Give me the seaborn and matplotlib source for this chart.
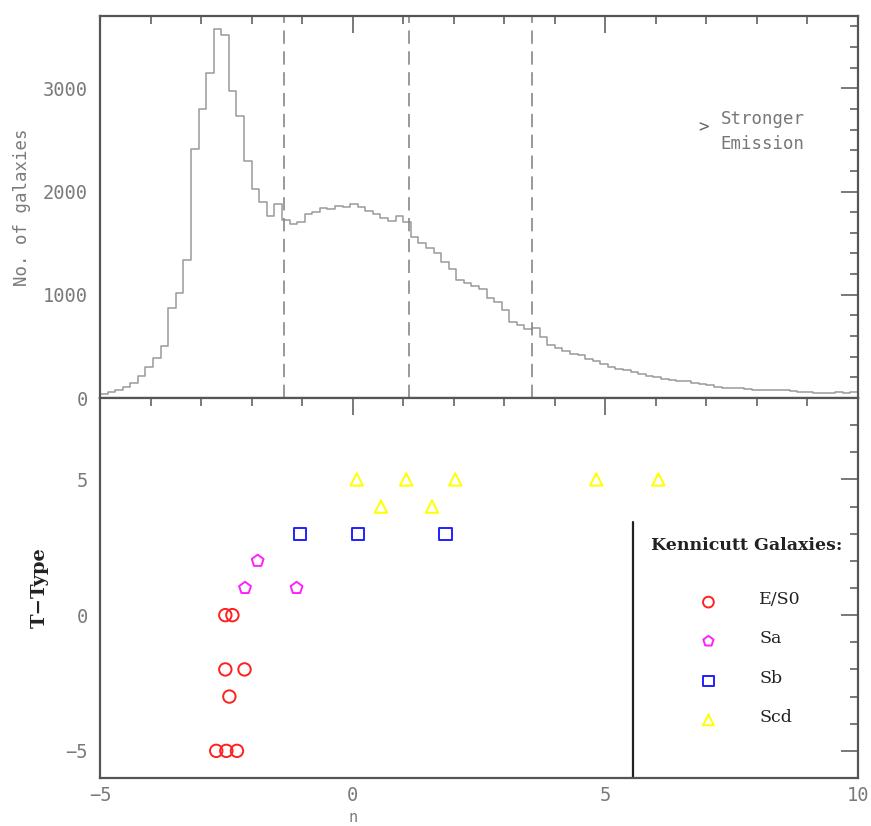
import numpy as np
import pandas as pd
import matplotlib
matplotlib.use("Agg")
import matplotlib.pyplot as plt
from matplotlib.ticker import MultipleLocator, FixedLocator
import seaborn as sns

# ---- Histogram of Sersic index n (100 bins, -5 .. 10) ----
hist_lo, hist_hi, n_bins = -5.0, 10.0, 100
hist_counts = [
    40, 55, 75, 105, 145, 210, 300, 390, 500, 875,
    1020, 1340, 2410, 2800, 3150, 3570, 3520, 2970, 2730, 2300,
    2020, 1900, 1760, 1880, 1720, 1690, 1700, 1780, 1800, 1840,
    1830, 1860, 1850, 1880, 1850, 1810, 1780, 1740, 1710, 1760,
    1700, 1560, 1500, 1450, 1400, 1320, 1250, 1140, 1110, 1080,
    1060, 970, 930, 850, 740, 710, 670, 680, 590, 510,
    480, 460, 430, 420, 380, 360, 330, 300, 280, 270,
    255, 230, 215, 200, 185, 175, 165, 160, 150, 140,
    125, 105, 100, 100, 95, 85, 80, 80, 80, 78,
    78, 70, 60, 55, 50, 45, 50, 55, 45, 60,
]
divider_n = [-1.35, 1.12, 3.55]

# ---- Kennicutt galaxies: Sersic n vs. T-type ----
es0_n = [-2.52, -2.38, -2.52, -2.14, -2.44, -2.70, -2.50, -2.29]
es0_t = [0, 0, -2, -2, -3, -5, -5, -5]
sa_n = [-2.13, -1.88, -1.11]
sa_t = [1, 2, 1]
sb_n = [-1.04, 0.11, 1.84]
sb_t = [3, 3, 3]
scd_n = [0.08, 1.06, 2.03, 4.82, 6.05, 0.56, 1.57]
scd_t = [5, 5, 5, 5, 5, 4, 4]

class_names = ["E/S0", "Sa", "Sb", "Scd"]
class_colors = ["#ff2020", "#ff20ff", "#2020ff", "#ffff00"]
class_markers = ["o", "p", "s", "^"]

edges = np.linspace(hist_lo, hist_hi, n_bins + 1)
hist_df = pd.DataFrame({
    "n": 0.5 * (edges[:-1] + edges[1:]),
    "count": np.asarray(hist_counts, dtype=float),
})

galaxies = pd.DataFrame({
    "n": es0_n + sa_n + sb_n + scd_n,
    "T": es0_t + sa_t + sb_t + scd_t,
    "cls": (["E/S0"] * len(es0_n) + ["Sa"] * len(sa_n)
            + ["Sb"] * len(sb_n) + ["Scd"] * len(scd_n)),
})

sns.set_style("white")
plt.rcParams["font.family"] = ["DejaVu Sans Mono", "DejaVu Sans"]

W, H = 871, 826
fig = plt.figure(figsize=(W / 100, H / 100), dpi=100)
left, right = 100, 858
ax_top = fig.add_axes([left / W, (H - 398) / H, (right - left) / W, (398 - 16) / H])
ax_bot = fig.add_axes([left / W, (H - 778) / H, (right - left) / W, (778 - 398) / H])

spine_col = "#555555"
label_col = "#7a7a7a"

for ax in (ax_top, ax_bot):
    for sp in ax.spines.values():
        sp.set_color(spine_col)
        sp.set_linewidth(1.6)
    ax.set_xlim(hist_lo, hist_hi)
    ax.xaxis.set_major_locator(MultipleLocator(5))
    ax.xaxis.set_minor_locator(MultipleLocator(1))
    ax.tick_params(which="both", direction="in", top=True, right=True,
                   color=spine_col, width=1.1, labelcolor=label_col,
                   labelsize=13.5)
    ax.tick_params(which="major", length=12, pad=9)
    ax.tick_params(which="minor", length=6)
ax_bot.tick_params(axis="x", which="major", pad=6)

# ---- top panel: histogram ----
sns.histplot(data=hist_df, x="n", weights="count", bins=edges.tolist(),
             element="step", fill=False, color="#9a9a9a", linewidth=1.1,
             ax=ax_top)
for xv in divider_n:
    ax_top.axvline(xv, color="#888888", linewidth=1.2, linestyle=(0, (8, 4.5)))
ax_top.set_xlim(hist_lo, hist_hi)
ax_top.set_ylim(0, 3700)
ax_top.yaxis.set_major_locator(FixedLocator([0, 1000, 2000, 3000]))
ax_top.yaxis.set_minor_locator(MultipleLocator(200))
ax_top.tick_params(labelbottom=False)
ax_top.set_xlabel("")
ax_top.set_ylabel("No. of galaxies", color=label_col, fontsize=12.5, labelpad=8)
ax_top.text(6.94, 2620, ">", color="#666666", fontsize=12.5, ha="center", va="center")
ax_top.text(7.28, 2700, "Stronger", color="#777777", fontsize=12.5, ha="left", va="center")
ax_top.text(7.28, 2465, "Emission", color="#777777", fontsize=12.5, ha="left", va="center")

# ---- bottom panel: T-type vs n ----
for name, col, mk in zip(class_names, class_colors, class_markers):
    sub = galaxies[galaxies["cls"] == name]
    sns.scatterplot(data=sub, x="n", y="T", marker=mk, s=80, color=col,
                    facecolor="none", edgecolor=col, linewidth=1.4,
                    legend=False, ax=ax_bot)

ax_bot.set_xlim(hist_lo, hist_hi)
ax_bot.set_ylim(-6, 8)
ax_bot.yaxis.set_major_locator(FixedLocator([-5, 0, 5]))
ax_bot.yaxis.set_minor_locator(MultipleLocator(1))
ax_bot.set_xlabel("")
# axis label "n" sits below the zero tick, at the very bottom edge
fig.text(352.6 / W, 1 / H, "n", color=label_col, fontsize=11,
         ha="center", va="bottom")
ax_bot.set_ylabel("T\u2212Type", fontsize=14, fontweight="bold",
                  family=["DejaVu Serif"], color="#222222", labelpad=12)

# legend box drawn inside the panel
ax_bot.plot([5.55, 5.55], [-6, 3.45], color="#222222", linewidth=1.6)
ax_bot.text(5.9, 2.55, "Kennicutt Galaxies:", family=["DejaVu Serif"],
            fontsize=12.5, fontweight="bold", color="#222222", va="center")
legend_y = [0.48, -0.96, -2.43, -3.86]
for name, col, mk, yy in zip(class_names, class_colors, class_markers, legend_y):
    ax_bot.scatter([7.04], [yy], marker=mk, s=60, facecolor="none",
                   edgecolor=col, linewidth=1.4)
    ax_bot.text(8.05, yy + 0.1, name, family=["DejaVu Serif"], fontsize=12.5,
                color="#222222", va="center")

fig.savefig("out.png", dpi=100)
